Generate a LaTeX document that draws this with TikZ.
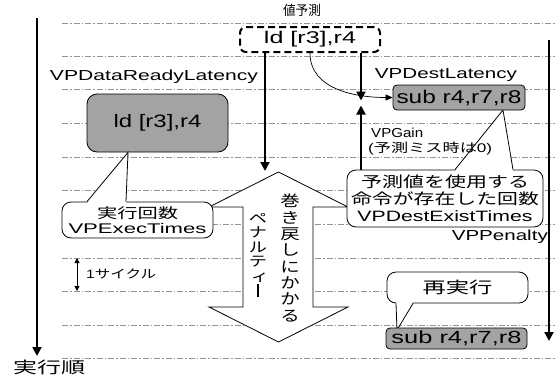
\documentclass[tikz,border=0pt]{standalone}
\usepackage{fontspec}
\setmainfont{Liberation Sans}
\newfontfamily\jp{Noto Sans CJK JP}
\usetikzlibrary{arrows.meta,calc}
% widen a piece of text to a given width (pt), keeping its height
\newcommand\fitw[2]{\resizebox{#1pt}{\height}{#2}}
% one glyph of a vertical column, widened like the rest of the lettering
\newcommand\vch[1]{\scalebox{1.3}[1]{#1}}

\begin{document}
\begin{tikzpicture}[x=1pt,y=-1pt,
  grid/.style={draw=black!42,line width=0.6pt,dash pattern=on 6pt off 2pt on 1.5pt off 2pt},
  heavy/.style={line width=2pt,-{Triangle[length=9pt,width=9pt]}},
  outl/.style={draw=black,line width=0.8pt},
  graybox/.style={outl,fill=black!36,inner sep=0pt},
  callout/.style={outl,fill=white,rounded corners=9pt,inner sep=0pt,align=center},
  lbl/.style={inner sep=0pt,font=\fontsize{14.5}{17}\selectfont},
]
\useasboundingbox (0,0) rectangle (555,376);
\fill[white] (0,0) rectangle (555,376);

% one dash-dot rule per cycle
\foreach \gy in {23,56,89,123,157,190,224,258,291,325,358}
  \draw[grid] (62,\gy) -- (555,\gy);

% rollback penalty: vertical double-headed block arrow
\coordinate (hTop) at (278.5,172);
\coordinate (hBot) at (278.5,342);
\draw[outl,fill=white] (hTop) -- (348,207) -- (313,207) -- (313,307) -- (348,307)
  -- (hBot) -- (209,307) -- (243,307) -- (243,207) -- (209,207) -- cycle;
\node[inner sep=0pt,align=center,font=\jp\fontsize{15}{16.3}\selectfont] (penR) at (290,258)
  {\vch{巻}\\\vch{き}\\\vch{戻}\\\vch{し}\\\vch{に}\\\vch{か}\\\vch{か}\\\vch{る}};
\node[inner sep=0pt,align=center,font=\jp\fontsize{14}{14.6}\selectfont] (penL) at (258,255)
  {\vch{ペ}\\\vch{ナ}\\\vch{ル}\\\vch{テ}\\\hspace*{4pt}\vch{ィ}\\\rule[-1pt]{1.3pt}{13pt}};

% instruction boxes
\node[graybox,rounded corners=10pt,minimum width=141pt,minimum height=58pt,
  font=\fontsize{18}{20}\selectfont] (ldA) at (157.5,123) {\fitw{88}{ld [r3],r4}};
\node[draw=black,line width=2pt,dash pattern=on 7pt off 4pt,rounded corners=6pt,fill=white,
  inner sep=0pt,minimum width=140pt,minimum height=25pt,
  font=\fontsize{17}{20}\selectfont] (ldP) at (310,39.5) {\fitw{92}{ld [r3],r4}};
\coordinate (subA) at (459,97.5);
\coordinate (subB) at (456.5,338.5);

% callout: execution count
\node[callout,minimum width=151pt,minimum height=36pt,font=\fontsize{14}{14.5}\selectfont]
  (cExec) at (137.5,220) {{\jp\fitw{81}{実行回数}}\\\fitw{138}{VPExecTimes}};
\path ([xshift=-50.5pt]cExec.north) coordinate (e1)
      ([xshift=-11.5pt]cExec.north) coordinate (e2)
      ([xshift=-29.5pt]ldA.south) coordinate (e3);
\fill[white] ($(e1)+(0,1.5)$) -- (e3) -- ($(e2)+(0,1.5)$) -- cycle;
\draw[outl] (e1) -- (e3) -- (e2);

% callout: count of consumers of the predicted value
\node[callout,minimum width=196pt,minimum height=57pt,font=\fontsize{15}{17}\selectfont]
  (cDest) at (445,198.5)
  {{\jp\fitw{168}{予測値を使用する}}\\{\jp\fitw{188}{命令が存在した回数}}\\\fitw{175}{VPDestExistTimes}};
\path ([xshift=10pt]cDest.north) coordinate (d1)
      ([xshift=68pt]cDest.north) coordinate (d2)
      ([xshift=44pt,yshift=-12.5pt]subA) coordinate (d3);
\fill[white] ($(d1)+(0,1.5)$) -- (d3) -- ($(d2)+(0,1.5)$) -- cycle;
\draw[outl] (d1) -- (d3) -- (d2);

% callout: re-execution
\node[callout,minimum width=141pt,minimum height=31pt,font=\jp\fontsize{16}{18}\selectfont]
  (cRe) at (457.5,287.5) {\fitw{70}{再実行}};
\path ([xshift=-61.5pt]cRe.south) coordinate (r1)
      ([xshift=-44.5pt]cRe.south) coordinate (r2)
      ([xshift=-59.5pt,yshift=8.5pt]subB) coordinate (r3);
\fill[white] ($(r1)+(0,-1.5)$) -- (r3) -- ($(r2)+(0,-1.5)$) -- cycle;
\draw[outl] (r1) -- (r3) -- (r2);

% the two consumers of r4, on top of the pointer tips
\node[graybox,rounded corners=4pt,minimum width=132pt,minimum height=25pt,
  font=\fontsize{18.5}{20}\selectfont] (subAn) at (subA) {\fitw{125}{sub r4,r7,r8}};
\node[graybox,rounded corners=4pt,minimum width=141pt,minimum height=21pt,
  font=\fontsize{17.5}{20}\selectfont] (subBn) at (subB) {\fitw{130}{sub r4,r7,r8}};

% latency arrows
\coordinate (meet) at (361,103);
\coordinate (penTop) at (265,171);
\draw[heavy] (ldP.south -| penTop) -- (penTop);
\draw[heavy] (ldP.south -| meet) -- ([yshift=2.5pt]meet);
\draw[heavy] (cDest.north -| meet) -- ([yshift=-2.5pt]meet);
\draw[line width=0.7pt,-{Triangle[length=7pt,width=6pt]}] (ldP.south) to[out=-90,in=180] (subAn.west);

% time axes
\coordinate (axT) at (37,18);
\coordinate (axB) at (37,356);
\draw[heavy] (axT) -- (axB);
\coordinate (rxT) at (549,40);
\coordinate (rxB) at (549,341);
\draw[heavy] (rxT) -- (rxB);

% one-cycle scale
\coordinate (cyT) at (77,258);
\coordinate (cyB) at (77,291);
\draw[line width=1pt,{Triangle[length=5pt,width=5pt]}-{Triangle[length=5pt,width=5pt]}] (cyT) -- (cyB);
\node[inner sep=0pt,anchor=west,font=\jp\fontsize{12}{13}\selectfont] (cyc) at (86,273.5)
  {\fitw{70}{{\fontspec{Liberation Sans}1}サイクル}};

% labels
\node[inner sep=0pt,font=\jp\fontsize{13.5}{15}\selectfont] (pred) at (302,10) {\fitw{38}{値予測}};
\node[lbl] (drl) at (154,77) {\fitw{208}{VPDataReadyLatency}};
\node[lbl] (dl) at (446,75) {\fitw{142}{VPDestLatency}};
\node[inner sep=0pt,anchor=west,font=\fontsize{13}{15}\selectfont] (gain) at (371,132.5) {\fitw{52}{VPGain}};
\node[inner sep=0pt,anchor=west,font=\fontsize{12.5}{14}\selectfont] (gain2) at (368,149)
  {\fitw{124}{({\jp 予測ミス時は}0)}};
\node[lbl,anchor=east] (pen) at (548,237) {\fitw{96}{VPPenalty}};
\node[inner sep=0pt,font=\jp\fontsize{16}{18}\selectfont] (order) at (49,367) {\fitw{72}{実行順}};
\end{tikzpicture}
\end{document}
